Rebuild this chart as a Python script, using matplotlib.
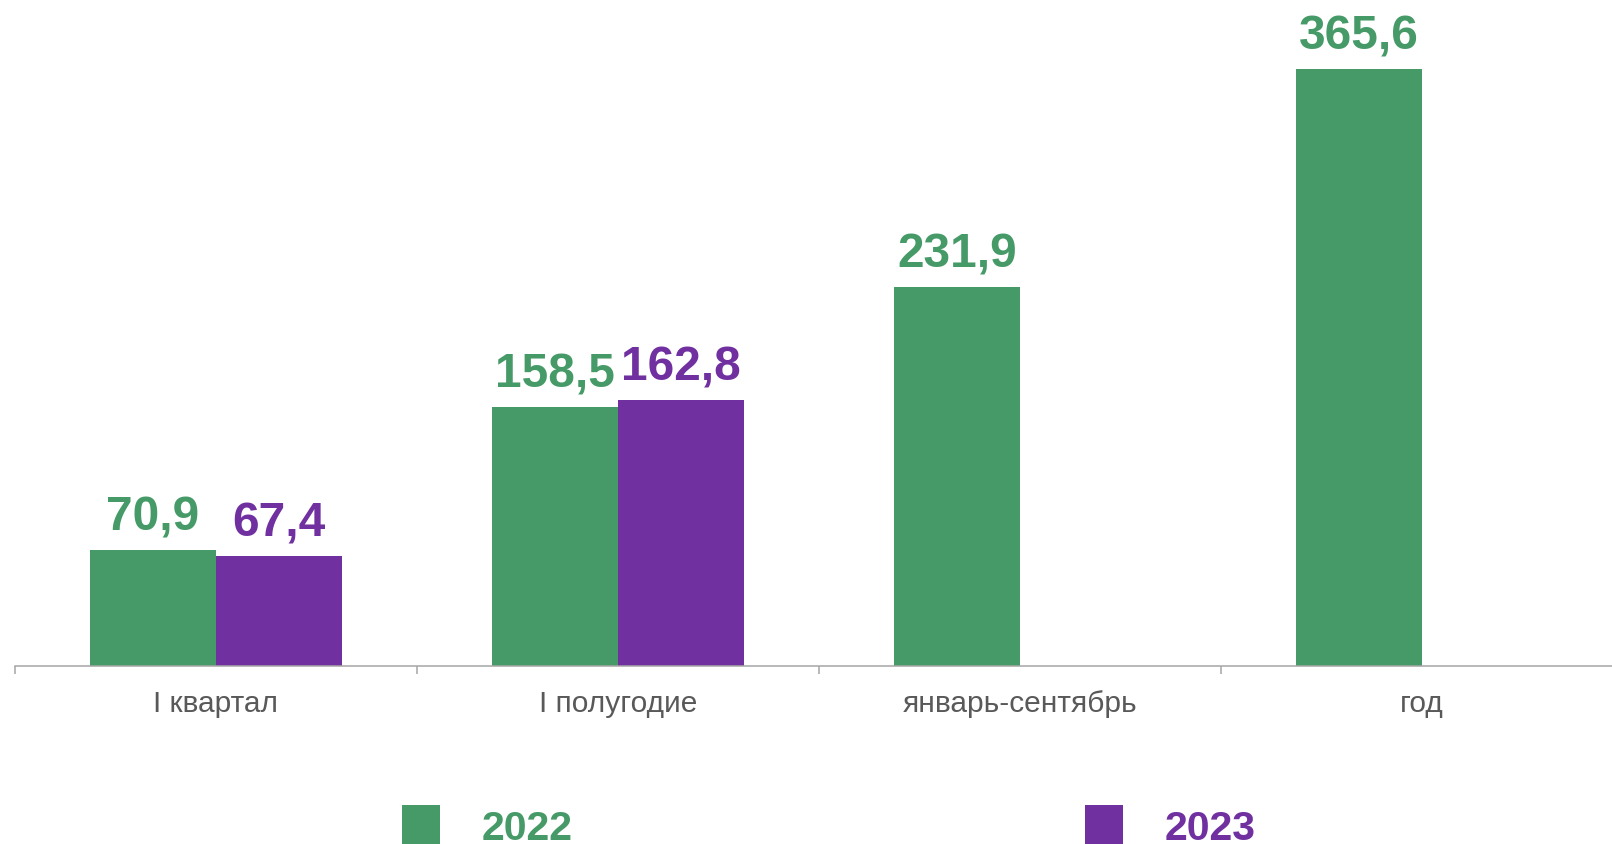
import numpy as np
import matplotlib
matplotlib.use("Agg")
import matplotlib.pyplot as plt
from matplotlib.patches import Patch

categories = ["I квартал", "I полугодие", "январь-сентябрь", "год"]
series_names = ["2022", "2023"]
values_2022 = [70.9, 158.5, 231.9, 365.6]
values_2023 = [67.4, 162.8, np.nan, np.nan]

GREEN = "#469A68"
PURPLE = "#7030A0"
plt.rcParams["font.family"] = ["Liberation Sans", "DejaVu Sans"]

W, H = 1612, 845
fig = plt.figure(figsize=(W / 100, H / 100), dpi=100)
ax = fig.add_axes([15 / W, 178.3 / H, 1608 / W, 652.8 / H])
ax.set_xlim(-0.5, 3.5)
ax.set_ylim(0, 400)

x = np.arange(len(categories))
bw = 126 / 402
for vals, off, col in [(values_2022, -bw / 2, GREEN), (values_2023, bw / 2, PURPLE)]:
    v = np.array(vals, dtype=float)
    mask = ~np.isnan(v)
    ax.bar(x[mask] + off, v[mask], width=bw, color=col, linewidth=0)
    for xi, vi in zip(x[mask] + off, v[mask]):
        ax.annotate(f"{vi:.1f}".replace(".", ","), (xi, vi), xytext=(0, 14.8),
                    textcoords="offset points", ha="center", va="baseline",
                    fontsize=34.5, fontweight="bold", color=col)

for s in ["left", "top", "right"]:
    ax.spines[s].set_visible(False)
ax.spines["bottom"].set_color("#a6a6a6")
ax.spines["bottom"].set_linewidth(1.1)
ax.set_yticks([])
ax.set_xticks(x)
ax.set_xticklabels(categories)
ax.tick_params(axis="x", which="major", length=0, pad=17, labelsize=21.5, labelcolor="#595959")
ax.set_xticks(np.arange(-0.5, 4.0, 1.0), minor=True)
ax.tick_params(axis="x", which="minor", length=6, width=1.1, color="#a6a6a6")

handles = [Patch(facecolor=GREEN, edgecolor="none"), Patch(facecolor=PURPLE, edgecolor="none")]
leg = fig.legend(handles, series_names, loc="upper left",
                 bbox_to_anchor=(402 / W, 1 - 806 / H), ncol=2, frameon=False,
                 fontsize=29.5, handlelength=0.93, handleheight=1.12,
                 handletextpad=1.02, columnspacing=12.5, borderpad=0, borderaxespad=0)
for t, c in zip(leg.get_texts(), [GREEN, PURPLE]):
    t.set_color(c)
    t.set_fontweight("bold")

fig.savefig("out.png", dpi=100)
